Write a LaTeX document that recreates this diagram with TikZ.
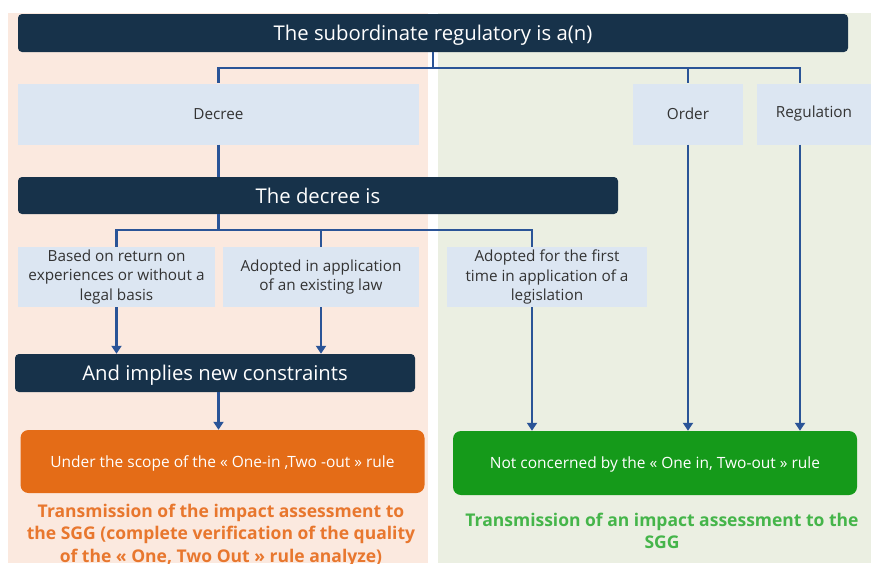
\documentclass[tikz,border=0pt]{standalone}
\usepackage{fontspec}
\setmainfont{Open Sans}
\usetikzlibrary{arrows.meta}
\definecolor{navybar}{HTML}{17324A}
\definecolor{paleblue}{HTML}{DCE6F2}
\definecolor{boxtext}{HTML}{333333}
\definecolor{linkblue}{HTML}{2A5497}
\definecolor{peachpanel}{HTML}{FBE9DF}
\definecolor{sagepanel}{HTML}{EBEFE2}
\definecolor{scopeorange}{HTML}{E46C17}
\definecolor{noteorange}{HTML}{E8772E}
\definecolor{okgreen}{HTML}{159A1A}
\definecolor{notegreen}{HTML}{45B54A}

\begin{document}
\begin{tikzpicture}[x=1pt,y=-1pt,
    bar/.style={fill=navybar,text=white,rounded corners=4pt,inner sep=0pt,
                text depth=0pt,font=\fontsize{20.3}{24}\selectfont},
    choice/.style={fill=paleblue,text=boxtext,inner sep=0pt,align=center,
                   font=\fontsize{15.3}{19.5}\selectfont},
    verdict/.style={rounded corners=8pt,text=white,inner sep=0pt,
                    text depth=0pt,font=\fontsize{15.5}{18}\selectfont},
    note/.style={inner sep=0pt,align=center,font=\bfseries\fontsize{17.5}{22.5}\selectfont},
    link/.style={draw=linkblue,line width=2.5pt},
    flow/.style={link,-{Triangle[width=10pt,length=8pt]}}]
    \useasboundingbox (0,0) rectangle (871,563);
    % panels
    \fill[peachpanel] (8,13) rectangle (428,563);
    \fill[sagepanel]  (438,13) rectangle (871,563);
    % boxes
    \node (top)      at (433,33)    [bar,minimum width=830pt,minimum height=38pt] {The subordinate regulatory is a(n)};
    \node (decree)   at (218.5,114) [choice,minimum width=401pt,minimum height=61pt] {Decree};
    \node (order)    at (688,114)   [choice,minimum width=110pt,minimum height=61pt] {Order};
    \node (regul)    at (814,114)   [choice,minimum width=114pt,minimum height=61pt] {Regulation};
    \node (isbar)    at (318,195.5) [bar,minimum width=600pt,minimum height=37pt] {The decree is};
    \node (basis)    at (116.5,277) [choice,minimum width=197pt,minimum height=60pt] {Based on return on\\experiences or without a\\legal basis};
    \node (existing) at (321,277)   [choice,minimum width=196pt,minimum height=60pt] {Adopted in application\\of an existing law};
    \node (first)    at (547,277)   [choice,minimum width=200pt,minimum height=60pt] {Adopted for the first\\time in application of a\\legislation};
    \node (implies)  at (215,373)   [bar,minimum width=400pt,minimum height=38pt] {And implies new constraints};
    \node (inscope)  at (222.5,461.5) [verdict,fill=scopeorange,minimum width=404pt,minimum height=63pt] {Under the scope of the « One-in ,Two -out » rule};
    \node (outscope) at (655,463)   [verdict,fill=okgreen,minimum width=404pt,minimum height=64pt] {Not concerned by the « One in, Two-out » rule};
    \node (orangenote) at (221,535) [note,text=noteorange] {Transmission of the impact assessment to\\the SGG (complete verification of the quality\\of the « One, Two Out » rule analyze)};
    \node (greennote)  at (662,531) [note,text=notegreen] {Transmission of an impact assessment to the\\SGG};
    \coordinate (firstdrop) at ([xshift=-15pt]first.south);
    \coordinate (regdrop)   at ([xshift=-14pt]regul.south);
    % connectors
    \draw[link] (top.south) -- ++(0,16) -| (decree.north);
    \draw[link] (top.south) -- ++(0,16) -| (order.north);
    \draw[link] (top.south) -- ++(0,16) -| ([xshift=-14pt]regul.north);
    \draw[link] (decree.south) -- (decree.south |- isbar.north);
    \draw[link] (decree.south |- isbar.south) -- ++(0,16) -| (basis.north);
    \draw[link] (decree.south |- isbar.south) -- ++(0,16) -| (existing.north);
    \draw[link] (decree.south |- isbar.south) -- ++(0,16) -| ([xshift=-15pt]first.north);
    \draw[flow] (basis.south) -- (basis.south |- implies.north);
    \draw[flow] (existing.south) -- (existing.south |- implies.north);
    \draw[flow] (implies.south -| decree.south) -- (inscope.north -| decree.south);
    \draw[flow] (firstdrop) -- (firstdrop |- outscope.north);
    \draw[flow] (order.south) -- (order.south |- outscope.north);
    \draw[flow] (regdrop) -- (regdrop |- outscope.north);
\end{tikzpicture}
\end{document}
